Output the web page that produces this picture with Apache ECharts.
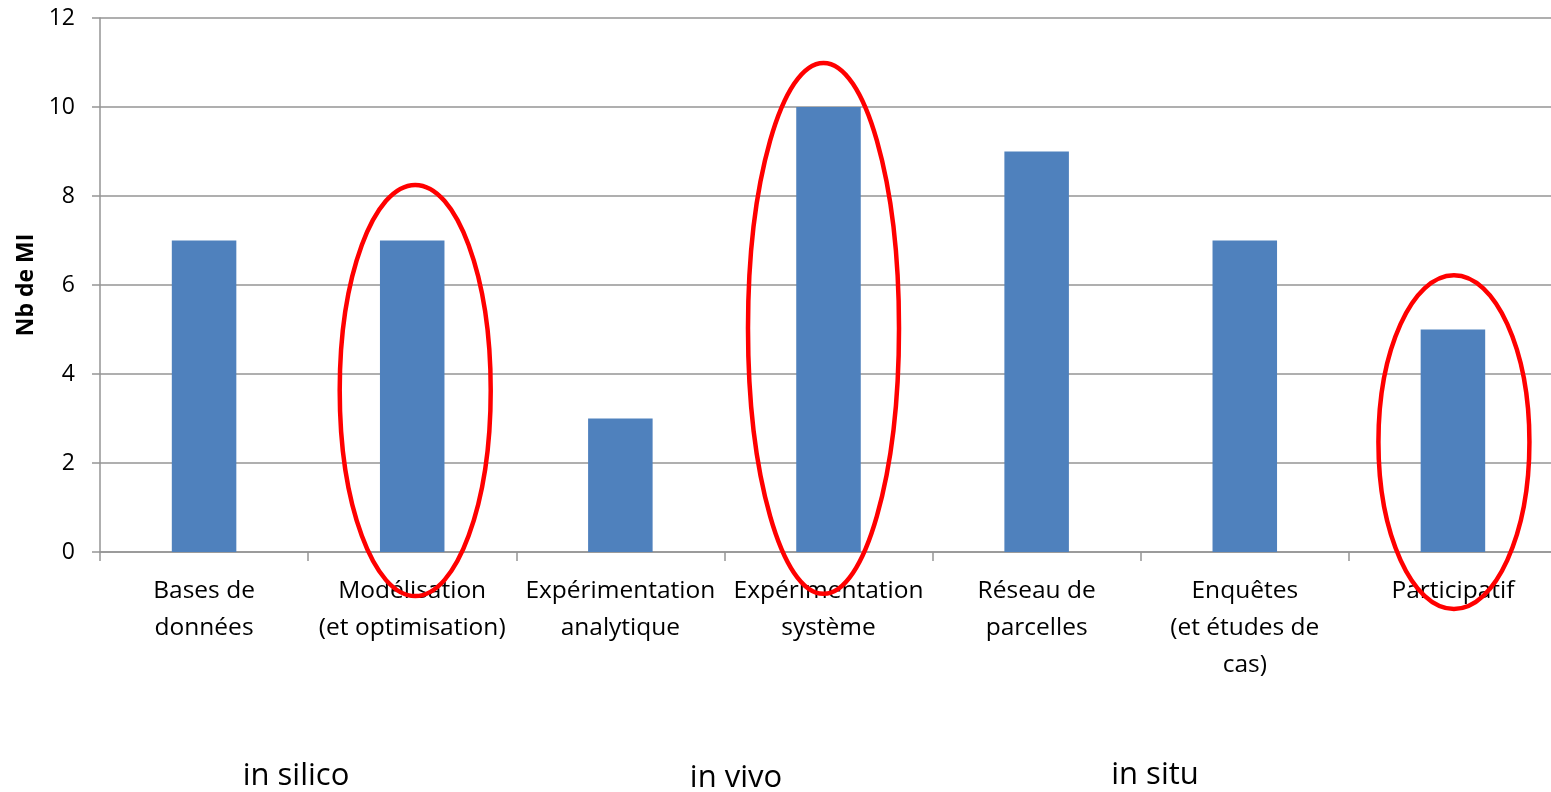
<!DOCTYPE html>
<html><head><meta charset="utf-8">
<script src="https://cdn.jsdelivr.net/npm/echarts@6/dist/echarts.min.js"></script>
<style>html,body{margin:0;padding:0;background:#fff;overflow:hidden}#c{width:1560px;height:792px}</style>
</head><body><div id="c"></div>
<script>
const categories = ["Bases de\ndonnées","Modélisation\n(et optimisation)","Expérimentation\nanalytique","Expérimentation\nsystème","Réseau de\nparcelles","Enquêtes\n(et études de\ncas)","Participatif"];
const values = [7,7,3,10,9,7,5];
const yTicks = [0,2,4,6,8,10,12];
const groupLabels = ["in silico","in vivo","in situ"];
// highlighted categories (ellipse annotations): index, top value, bottom value
const ellipseCats = [1,3,6];
const ellipseTop = [8.25,10.99,6.22];
const ellipseBottom = [-0.99,-0.94,-1.28];

const FONT = "Open Sans";
const ELLIPSE_DX = [3,-5,1];
const chart = echarts.init(document.getElementById('c'), null, {renderer:'canvas'});
const option = {
  animation:false,
  backgroundColor:'#fff',
  grid:{left:100, top:18, width:1457, height:534},
  xAxis:{
    type:'category', data:categories, boundaryGap:true,
    axisLine:{lineStyle:{color:'#959595', width:1.5}},
    axisTick:{show:true, length:9, lineStyle:{color:'#959595', width:1.5}},
    axisLabel:{color:'#000', fontFamily:FONT, fontSize:24.5, lineHeight:37, margin:21, interval:0}
  },
  yAxis:{
    type:'value', min:yTicks[0], max:yTicks[yTicks.length-1], interval:2,
    name:'Nb de MI', nameLocation:'middle', nameGap:62, nameRotate:90,
    nameTextStyle:{color:'#000', fontFamily:FONT, fontSize:23, fontWeight:'bold'},
    axisLine:{show:true, lineStyle:{color:'#959595', width:1.5}},
    axisTick:{show:true, length:8, lineStyle:{color:'#959595', width:1.5}},
    axisLabel:{color:'#000', fontFamily:FONT, fontSize:23, margin:25},
    splitLine:{lineStyle:{color:'#959595', width:1.5}}
  },
  series:[{type:'bar', data:values, barWidth:'31%', itemStyle:{color:'#4F81BD'}}]
};
chart.setOption(option);

const ellipses = ellipseCats.map((ci,k)=>{
  const top = chart.convertToPixel({gridIndex:0},[ci, ellipseTop[k]]);
  const bot = chart.convertToPixel({gridIndex:0},[ci, ellipseBottom[k]]);
  return {type:'ellipse', shape:{cx:top[0]+ELLIPSE_DX[k], cy:(top[1]+bot[1])/2, rx:75.5, ry:(bot[1]-top[1])/2},
    style:{fill:null, stroke:'#FF0000', lineWidth:4.5}, z:100};
});
const groupPos = [[296,776],[736,778],[1155,775]];
const texts = groupLabels.map((t,i)=>({type:'text', x:groupPos[i][0], y:groupPos[i][1],
  style:{text:t, fill:'#000', font:'31px "Open Sans"', textAlign:'center', textVerticalAlign:'middle'}, z:100}));
chart.setOption({graphic:ellipses.concat(texts)});
</script></body></html>
